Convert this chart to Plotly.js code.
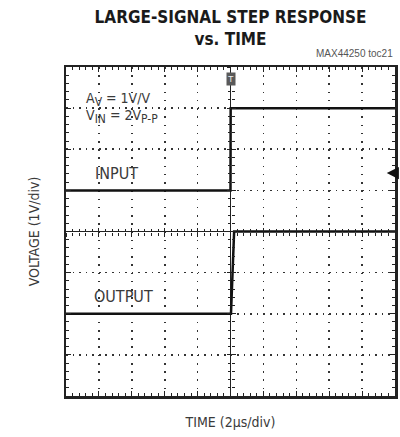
<!DOCTYPE html>
<html>
<head>
<meta charset="utf-8">
<script src="https://cdn.plot.ly/plotly-3.0.1.min.js"></script>
<style>html,body{margin:0;padding:0;background:#fff;}#chart{width:400px;height:437px;}</style>
</head>
<body>
<div id="chart"></div>
<script>
// ---- data (time in µs, voltage in V as displayed on screen) ----
const inputTime = [-10, 0, 0.01, 10];
const inputVolt = [1, 1, 3, 3];
const outputTime = [-10, 0.03, 0.22, 10];
const outputVolt = [-2, -2, 0, 0];

const titleText = 'LARGE-SIGNAL STEP RESPONSE<br>vs. TIME';
const xTitle = 'TIME (2µs/div)';
const yTitle = 'VOLTAGE (1V/div)';
const partNo = 'MAX44250 toc21';

const narrow = '"DejaVu Sans Condensed", "Liberation Sans Narrow", "Arial Narrow", sans-serif';
const ink = '#222';
const txt = '#3a3a3a';

const traces = [
  {x: inputTime, y: inputVolt, mode: 'lines', line: {color: '#111', width: 2.5}, hoverinfo: 'skip', showlegend: false},
  {x: outputTime, y: outputVolt, mode: 'lines', line: {color: '#111', width: 2.5}, hoverinfo: 'skip', showlegend: false},
  {x: [], y: [], xaxis: 'x2', yaxis: 'y', showlegend: false},
  {x: [], y: [], xaxis: 'x3', yaxis: 'y', showlegend: false},
  {x: [], y: [], xaxis: 'x', yaxis: 'y2', showlegend: false},
  {x: [], y: [], xaxis: 'x', yaxis: 'y3', showlegend: false}
];

const xr = [-10, 10], yr = [-4, 4];
const centerX = (t) => ({
  range: xr, overlaying: 'x', anchor: 'free', position: 0.5, showgrid: false, zeroline: false,
  showline: false, showticklabels: false, ticks: t, ticklen: 4, tickwidth: 1, tickcolor: ink,
  tick0: 0, dtick: 2, minor: {dtick: 0.4, ticks: t, ticklen: 3, tickwidth: 1, tickcolor: ink}
});
const centerY = (t) => ({
  range: yr, overlaying: 'y', anchor: 'free', position: 0.5, showgrid: false, zeroline: false,
  showline: false, showticklabels: false, ticks: t, ticklen: 4, tickwidth: 1, tickcolor: ink,
  tick0: 0, dtick: 1, minor: {dtick: 0.2, ticks: t, ticklen: 3, tickwidth: 1, tickcolor: ink}
});

const subV = (s) => '<sub><span style="font-size:12px">' + s + '</span></sub>';

const layout = {
  width: 400, height: 437,
  margin: {l: 66, r: 5, t: 67, b: 41},
  paper_bgcolor: '#fff', plot_bgcolor: '#fff',
  showlegend: false,
  font: {family: narrow, color: txt},
  title: {text: titleText, font: {family: narrow, size: 17, color: '#1a1a1a', weight: 'bold'},
          x: 0.5, xref: 'paper', xanchor: 'center', y: 1 - 23/437, yref: 'container', yanchor: 'top'},
  xaxis: {
    range: xr, tick0: 0, dtick: 2, showticklabels: false,
    showgrid: true, gridcolor: '#333', gridwidth: 1.6, griddash: '1.6px,6.62px',
    zeroline: true, zerolinecolor: ink, zerolinewidth: 1,
    showline: true, linecolor: ink, linewidth: 2.5, mirror: 'ticks',
    ticks: 'inside', ticklen: 5, tickwidth: 1, tickcolor: ink,
    minor: {dtick: 0.4, ticks: 'inside', ticklen: 3, tickwidth: 1, tickcolor: ink},
    title: {text: xTitle, font: {family: narrow, size: 14, color: txt}, standoff: 20}
  },
  yaxis: {
    range: yr, tick0: 0, dtick: 1, showticklabels: false,
    showgrid: true, gridcolor: '#333', gridwidth: 1.6, griddash: '1.6px,4.98px',
    zeroline: true, zerolinecolor: ink, zerolinewidth: 1,
    showline: true, linecolor: ink, linewidth: 2.5, mirror: 'ticks',
    ticks: 'inside', ticklen: 5, tickwidth: 1, tickcolor: ink,
    minor: {dtick: 0.2, ticks: 'inside', ticklen: 3, tickwidth: 1, tickcolor: ink},
    title: {text: yTitle, font: {family: narrow, size: 14, color: txt}, standoff: 21}
  },
  xaxis2: centerX('outside'),
  xaxis3: centerX('inside'),
  yaxis2: centerY('outside'),
  yaxis3: centerY('inside'),
  annotations: [
    {text: partNo, xref: 'paper', yref: 'paper', x: 1, y: 1 + 6/329, xanchor: 'right', yanchor: 'bottom',
     showarrow: false, font: {family: '"Liberation Sans", Arial, sans-serif', size: 10, color: '#555'}},
    {text: 'A' + subV('V') + ' = 1V/V', x: -8.9, y: 3.22, xanchor: 'left', yanchor: 'middle', showarrow: false,
     font: {family: narrow, size: 14, color: txt}},
    {text: 'V' + subV('IN') + ' = 2V' + subV('P-P'), x: -8.9, y: 2.8, xanchor: 'left', yanchor: 'middle', showarrow: false,
     font: {family: narrow, size: 14, color: txt}},
    {text: 'INPUT', x: -8.35, y: 1.4, xanchor: 'left', yanchor: 'middle', showarrow: false,
     font: {family: narrow, size: 16, color: txt}},
    {text: 'OUTPUT', x: -8.4, y: -1.58, xanchor: 'left', yanchor: 'middle', showarrow: false,
     font: {family: narrow, size: 16, color: txt}},
    {text: 'T', x: 0, xref: 'x', y: 1 - 5/329, yref: 'paper', xanchor: 'center', yanchor: 'top', showarrow: false,
     bgcolor: '#5a5a5a', borderpad: 1, font: {family: '"Liberation Sans", Arial, sans-serif', size: 9, color: '#eee'}},
    {text: '', x: 9.5, y: 1.42, ax: 7, ay: 0, showarrow: true, arrowhead: 2, arrowsize: 1.1, arrowwidth: 2.2, arrowcolor: '#111'}
  ]
};

Plotly.newPlot('chart', traces, layout, {staticPlot: true, displayModeBar: false});
</script>
</body>
</html>
